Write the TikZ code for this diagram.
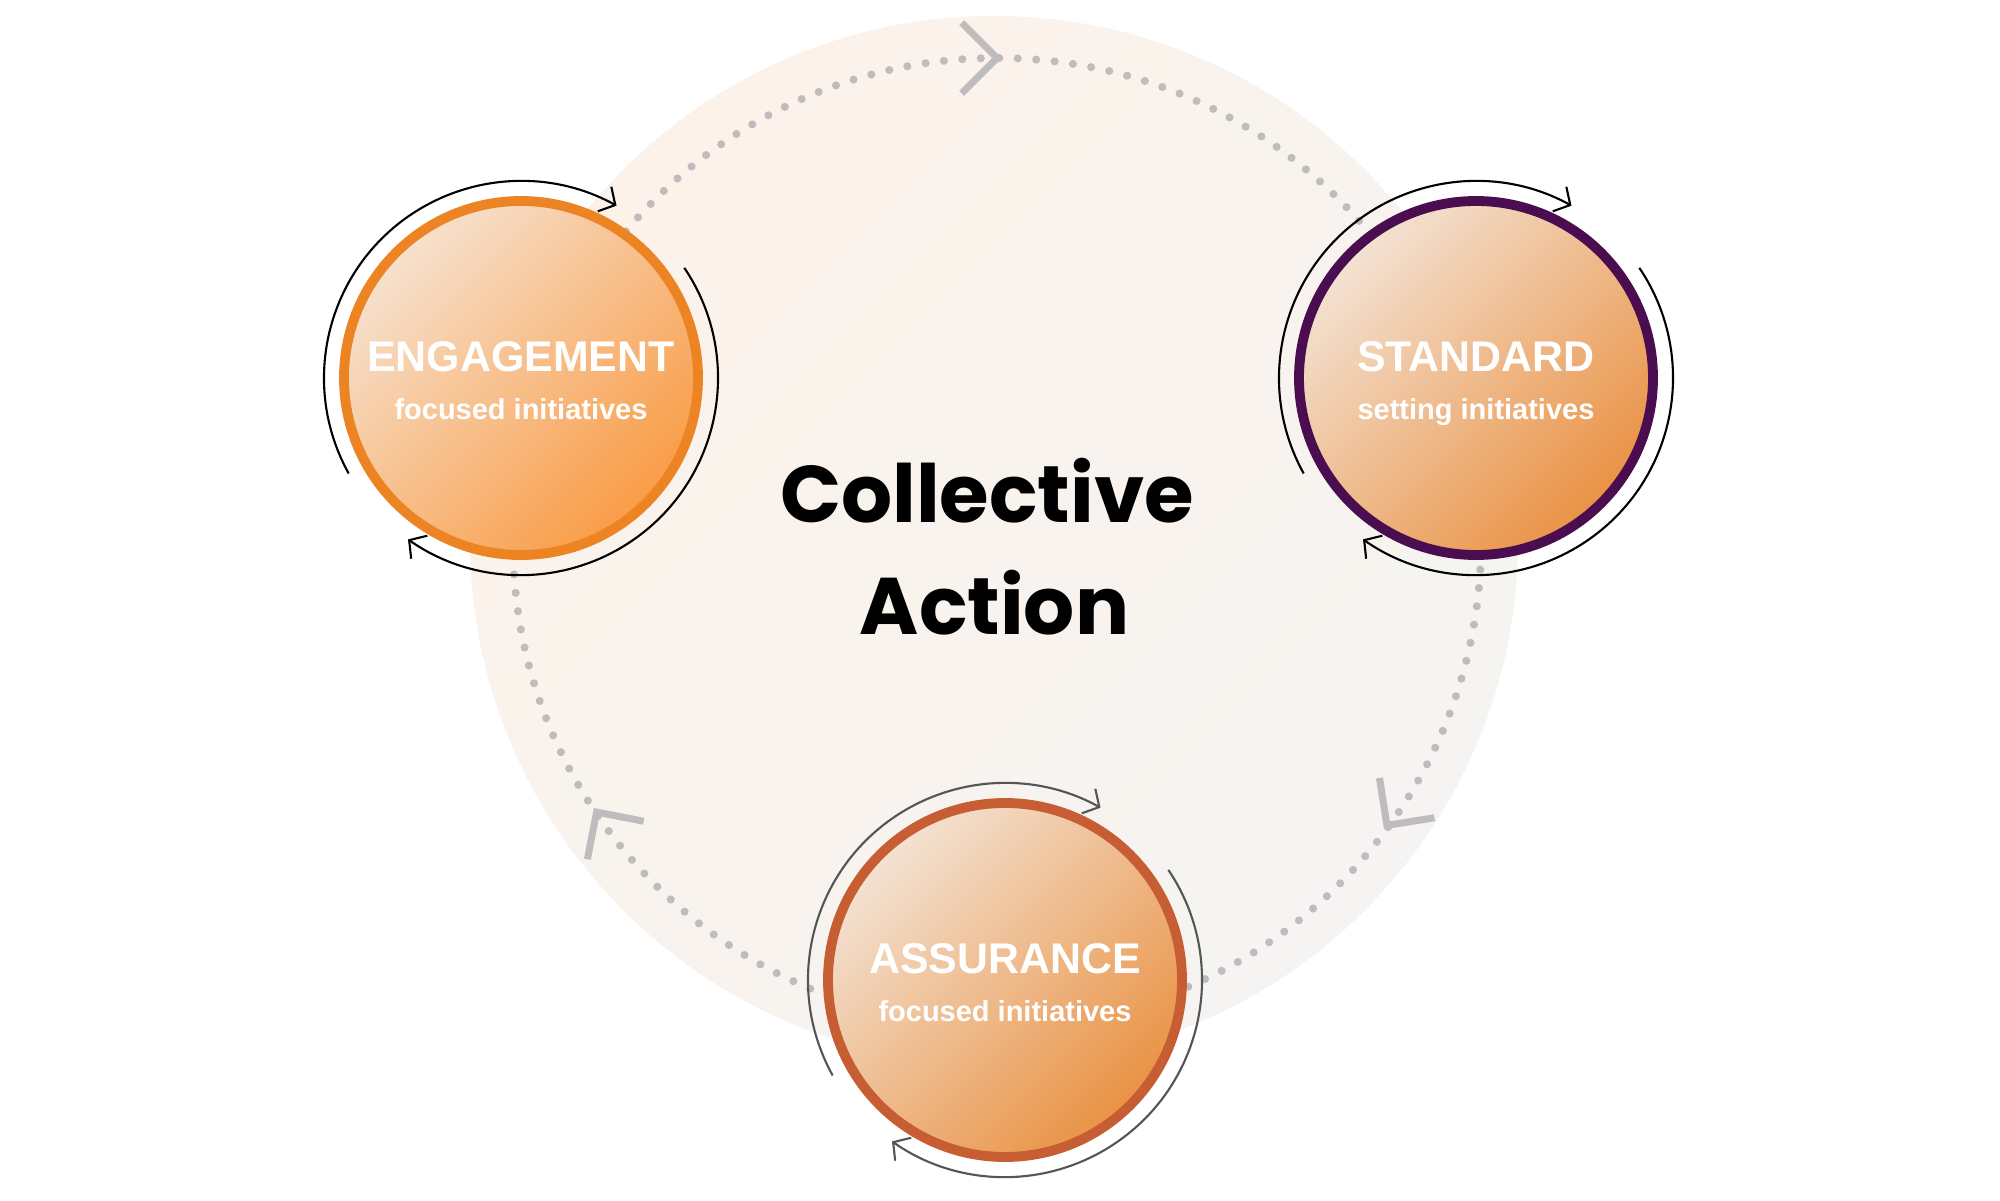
\documentclass[tikz,border=0pt]{standalone}
\usepackage{fontspec}
\newfontfamily\titlefont{Poppins}
\newfontfamily\labelfont{Liberation Sans}
\usetikzlibrary{arrows.meta}
\definecolor{bgA}{HTML}{FCF2EA}
\definecolor{bgB}{HTML}{F5F4F2}
\definecolor{dotc}{HTML}{BEBCBC}
\definecolor{engring}{HTML}{EC8424}
\definecolor{stdring}{HTML}{4A0D4F}
\definecolor{assring}{HTML}{C75D32}
\definecolor{fillA}{HTML}{F6E1CE}
\definecolor{fillB}{HTML}{F99C46}
\definecolor{fillC}{HTML}{F3E2D3}
\definecolor{fillD}{HTML}{EA9244}
\definecolor{arcgray}{HTML}{555555}
\tikzset{
  ringnode/.style={circle, minimum size=3.54cm, inner sep=0pt, line width=2.8pt},
  cyclearc/.style={line width=0.6pt, -{Straight Barb[length=3.5pt,width=8pt]}},
  chev/.style={draw=dotc, line width=2pt, line join=miter},
  bigtxt/.style={text=white, font=\labelfont\bfseries\fontsize{12.2}{14}\selectfont, anchor=base, inner sep=0pt},
  smalltxt/.style={text=white, font=\labelfont\bfseries\fontsize{8.25}{10}\selectfont, anchor=base, inner sep=0pt},
  titletxt/.style={text=black, font=\titlefont\bfseries\fontsize{22.85}{28}\selectfont, anchor=base, inner sep=0pt}
}
\begin{document}
\begin{tikzpicture}
\useasboundingbox[fill=white] (0,0) rectangle (20,12);
% background disc
\shade[top color=bgA, bottom color=bgB, shading angle=45] (9.94,6.60) circle[radius=5.24];
% dotted cycle
\coordinate (dc) at (9.97,6.58);
\draw[dotc, line width=2.3pt, line cap=round, dash pattern=on 0pt off 5.261pt] (dc) circle[radius=4.84];
% chevrons
\path (dc) ++(90:4.84) coordinate (ch1);
\path (dc) ++(-36:4.82) coordinate (ch2);
\path (dc) ++(214:4.83) coordinate (ch3);
\draw[chev] (ch1) ++(135:0.5) -- (ch1) -- ++(225:0.5);
\draw[chev] (ch2) ++(99:0.48) -- (ch2) -- ++(9:0.48);
\draw[chev] (ch3) ++(259:0.48) -- (ch3) -- ++(-11:0.48);
% node circles
\node[ringnode, draw=engring, top color=fillA, bottom color=fillB, shading angle=45] (eng) at (5.21,8.22) {};
\node[ringnode, draw=stdring, top color=fillC, bottom color=fillD, shading angle=45] (std) at (14.76,8.22) {};
\node[ringnode, draw=assring, top color=fillC, bottom color=fillD, shading angle=45] (ass) at (10.05,2.20) {};
% cycle arcs
\draw[cyclearc, black] (eng.center) ++(209:1.97) arc[start angle=209, end angle=61, radius=1.97];
\draw[cyclearc, black] (eng.center) ++(34:1.97) arc[start angle=34, end angle=-125, radius=1.97];
\draw[cyclearc, black] (std.center) ++(209:1.97) arc[start angle=209, end angle=61, radius=1.97];
\draw[cyclearc, black] (std.center) ++(34:1.97) arc[start angle=34, end angle=-125, radius=1.97];
\draw[cyclearc, arcgray] (ass.center) ++(209:1.97) arc[start angle=209, end angle=61, radius=1.97];
\draw[cyclearc, arcgray] (ass.center) ++(34:1.97) arc[start angle=34, end angle=-125, radius=1.97];
% labels
\node[bigtxt] (engT) at (5.21,8.28) {ENGAGEMENT};
\node[smalltxt] (engS) at (5.21,7.80) {focused initiatives};
\node[bigtxt] (stdT) at (14.76,8.28) {STANDARD};
\node[smalltxt] (stdS) at (14.76,7.80) {setting initiatives};
\node[bigtxt] (assT) at (10.05,2.27) {ASSURANCE};
\node[smalltxt] (assS) at (10.05,1.79) {focused initiatives};
% title
\node[titletxt] (t1) at (9.87,6.77) {Collective};
\node[titletxt] (t2) at (9.945,5.66) {Action};
\end{tikzpicture}
\end{document}
